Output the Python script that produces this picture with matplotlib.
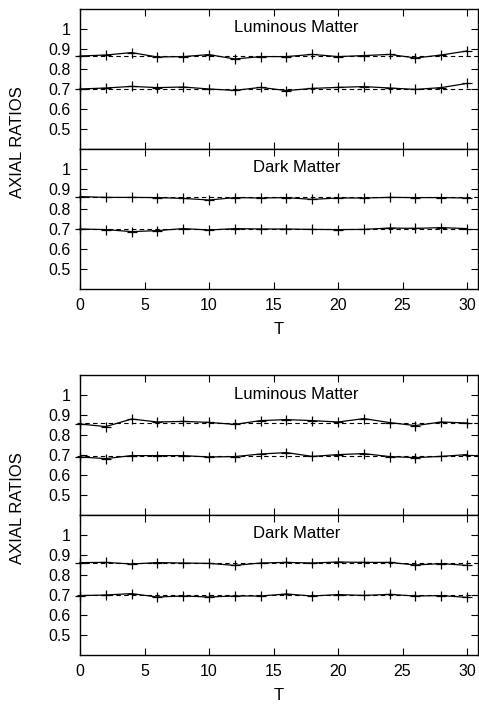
import matplotlib
matplotlib.use("Agg")
import matplotlib.pyplot as plt

plt.rcParams['font.family'] = ['Liberation Sans', 'DejaVu Sans']
plt.rcParams['font.size'] = 11.5

t = [0, 2, 4, 6, 8, 10, 12, 14, 16, 18, 20, 22, 24, 26, 28, 30]

# group 1
lum1_upper = [0.865, 0.870, 0.882, 0.860, 0.862, 0.872, 0.850, 0.862, 0.862, 0.873, 0.862, 0.867, 0.873, 0.855, 0.870, 0.890]
lum1_lower = [0.700, 0.705, 0.713, 0.707, 0.710, 0.700, 0.693, 0.708, 0.692, 0.703, 0.708, 0.712, 0.705, 0.698, 0.707, 0.728]
dark1_upper = [0.862, 0.858, 0.858, 0.857, 0.853, 0.845, 0.857, 0.855, 0.857, 0.848, 0.855, 0.855, 0.858, 0.857, 0.857, 0.855]
dark1_lower = [0.700, 0.697, 0.687, 0.692, 0.702, 0.695, 0.702, 0.700, 0.700, 0.698, 0.697, 0.698, 0.705, 0.703, 0.707, 0.702]
# group 2
lum2_upper = [0.855, 0.842, 0.880, 0.865, 0.868, 0.863, 0.853, 0.872, 0.877, 0.872, 0.865, 0.882, 0.862, 0.847, 0.865, 0.860]
lum2_lower = [0.690, 0.682, 0.697, 0.697, 0.697, 0.690, 0.692, 0.705, 0.712, 0.693, 0.702, 0.707, 0.692, 0.687, 0.693, 0.702]
dark2_upper = [0.862, 0.863, 0.855, 0.862, 0.860, 0.858, 0.848, 0.860, 0.863, 0.860, 0.865, 0.863, 0.863, 0.850, 0.857, 0.848]
dark2_lower = [0.697, 0.700, 0.707, 0.690, 0.695, 0.690, 0.695, 0.695, 0.705, 0.695, 0.702, 0.698, 0.703, 0.695, 0.697, 0.688]

ref_lines = {
    'lum1': [0.863, 0.700],
    'dark1': [0.862, 0.700],
    'lum2': [0.862, 0.695],
    'dark2': [0.862, 0.698],
}

fig = plt.figure(figsize=(4.79, 7.04), dpi=100)

W, H = 479.0, 704.0
left, width = 80 / W, 398 / W
# (top px, bottom px) for each panel
panels = [
    (9, 149, 'Luminous Matter', lum1_upper, lum1_lower, ref_lines['lum1'], False),
    (149, 289, 'Dark Matter', dark1_upper, dark1_lower, ref_lines['dark1'], True),
    (375, 515, 'Luminous Matter', lum2_upper, lum2_lower, ref_lines['lum2'], False),
    (515, 655, 'Dark Matter', dark2_upper, dark2_lower, ref_lines['dark2'], True),
]

for top, bot, title, up, lo, refs, bottom_panel in panels:
    ax = fig.add_axes([left, 1 - bot / H, width, (bot - top) / H])
    ax.set_xlim(0, 30.85)
    ax.set_ylim(0.4, 1.1)
    for r in refs:
        ax.plot([-0.25, 32], [r, r], color='black', linestyle=(0, (4, 3)), linewidth=0.8, clip_on=False)
    ax.plot(t, up, color='black', marker='+', markersize=7, linewidth=0.9, markeredgewidth=0.9, clip_on=False)
    ax.plot(t, lo, color='black', marker='+', markersize=7, linewidth=0.9, markeredgewidth=0.9, clip_on=False)
    ax.text(16.8, 1.005, title, ha='center', va='center', fontsize=12)
    ax.set_yticks([0.5, 0.6, 0.7, 0.8, 0.9, 1.0])
    ax.set_yticklabels(['0.5', '0.6', '0.7', '0.8', '0.9', '1'])
    ax.set_xticks([0, 5, 10, 15, 20, 25, 30])
    ax.tick_params(direction='in', top=True, right=True, length=5, width=0.8)
    ax.tick_params(axis='y', pad=7)
    if bottom_panel:
        ax.set_xlabel('T', fontsize=12, labelpad=6.5)
        ax.set_xticklabels(['0', '5', '10', '15', '20', '25', '30'])
        ax.tick_params(axis='x', pad=6.5)
    else:
        ax.set_xticklabels([])
    for s in ax.spines.values():
        s.set_linewidth(1.0)

fig.text(18 / W, 1 - 142 / H, 'AXIAL RATIOS', rotation=90, ha='center', va='center', fontsize=12)
fig.text(18 / W, 1 - 508 / H, 'AXIAL RATIOS', rotation=90, ha='center', va='center', fontsize=12)

fig.savefig('out.png', dpi=100)
